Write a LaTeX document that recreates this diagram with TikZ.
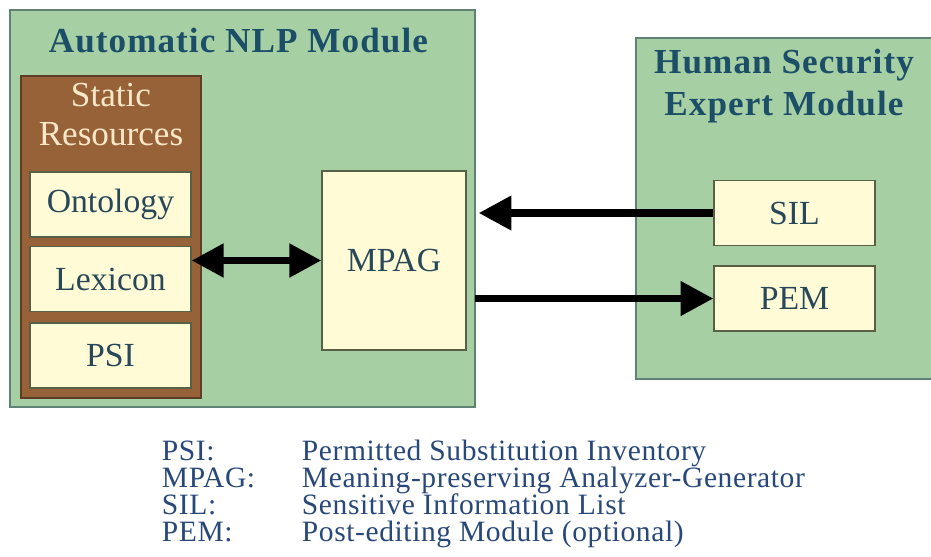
\documentclass[tikz,border=0pt]{standalone}
\usepackage{fontspec}
\setmainfont{Liberation Serif}
\usetikzlibrary{arrows.meta}
\definecolor{modgreen}{RGB}{166,208,164}
\definecolor{modedge}{RGB}{96,130,118}
\definecolor{resbrown}{RGB}{152,98,56}
\definecolor{resedge}{RGB}{92,62,40}
\definecolor{restext}{RGB}{250,232,200}
\definecolor{itemcream}{RGB}{255,251,214}
\definecolor{itemedge}{RGB}{88,96,70}
\definecolor{titleblue}{RGB}{28,78,104}
\definecolor{boxtext}{RGB}{40,72,90}
\definecolor{legendblue}{RGB}{40,72,122}

\begin{document}
\begin{tikzpicture}[
    modbox/.style={draw=modedge, line width=1pt, fill=modgreen,
                   inner sep=0pt},
    resbox/.style={draw=resedge, line width=1pt, fill=resbrown,
                   inner sep=0pt},
    itembox/.style={draw=itemedge, line width=0.8pt, fill=itemcream,
                    inner sep=0pt, minimum width=4.025cm,
                    minimum height=1.625cm, text=boxtext,
                    font=\fontsize{24}{28}\selectfont},
    modtitle/.style={align=center, text=titleblue,
                     font=\fontsize{25}{30}\selectfont\bfseries
                          \addfontfeature{LetterSpace=3}},
    flow/.style={draw=black, line width=5.5pt,
                 -{Triangle[length=0.82cm, width=0.82cm]}},
    flowboth/.style={flow,
                 {Triangle[length=0.8cm, width=0.8cm]}-{Triangle[length=0.8cm, width=0.8cm]}},
    legend/.style={anchor=base west, text=legendblue,
                   font=\fontsize{21}{24}\selectfont
                        \addfontfeature{LetterSpace=2}}
  ]
    \useasboundingbox[fill=white] (0,0) rectangle (23.275,-13.9);

    % modules
    \node[modbox, minimum width=11.625cm, minimum height=9.925cm]
      (nlp) at (6.0625,-5.2125) {};
    \node[modbox, minimum width=7.8cm, minimum height=8.525cm]
      (expert) at (19.8,-5.2125) {};
    \node[modtitle] (nlptitle) at (5.96,-1.02) {Automatic NLP Module};
    \node[modtitle] (experttitle) at (19.6,-2.15)
      {Human Security\\Expert Module};

    % static resources
    \node[resbox, minimum width=4.5cm, minimum height=8.05cm]
      (res) at (2.775,-5.925) {};
    \node[align=center, text=restext, font=\fontsize{25}{28}\selectfont]
      (restitle) at (2.775,-2.87) {Static\\Resources};
    \node[itembox] (ont) at (2.7625,-5.1125) {Ontology};
    \node[itembox] (lex) at (2.7625,-6.975)  {Lexicon};
    \node[itembox] (psi) at (2.7625,-8.8875) {PSI};

    \node[itembox, minimum width=3.6cm, minimum height=4.475cm]
      (mpag) at (9.85,-6.5125) {MPAG};
    \node[itembox] (sil) at (19.8625,-5.325)  {SIL};
    \node[itembox] (pem) at (19.8625,-7.4625) {PEM};

    % connectors
    \draw[flowboth] (mpag.west -| lex.east) -- (mpag.west);
    \draw[flow, shorten >=0.3cm] (sil.west) -- (sil.west -| mpag.east);
    \draw[flow, shorten <=0.22cm] (pem.west -| mpag.east) -- (pem.west);

    % legend
    \node[legend] (k1) at (3.925,-11.5)   {PSI:};
    \node[legend] (k2) at (3.925,-12.175) {MPAG:};
    \node[legend] (k3) at (3.925,-12.85)  {SIL:};
    \node[legend] (k4) at (3.925,-13.525) {PEM:};
    \node[legend] (v1) at (7.425,-11.5)   {Permitted Substitution Inventory};
    \node[legend] (v2) at (7.425,-12.175) {Meaning-preserving Analyzer-Generator};
    \node[legend] (v3) at (7.425,-12.85)  {Sensitive Information List};
    \node[legend] (v4) at (7.425,-13.525) {Post-editing Module (optional)};
  \end{tikzpicture}
\end{document}
